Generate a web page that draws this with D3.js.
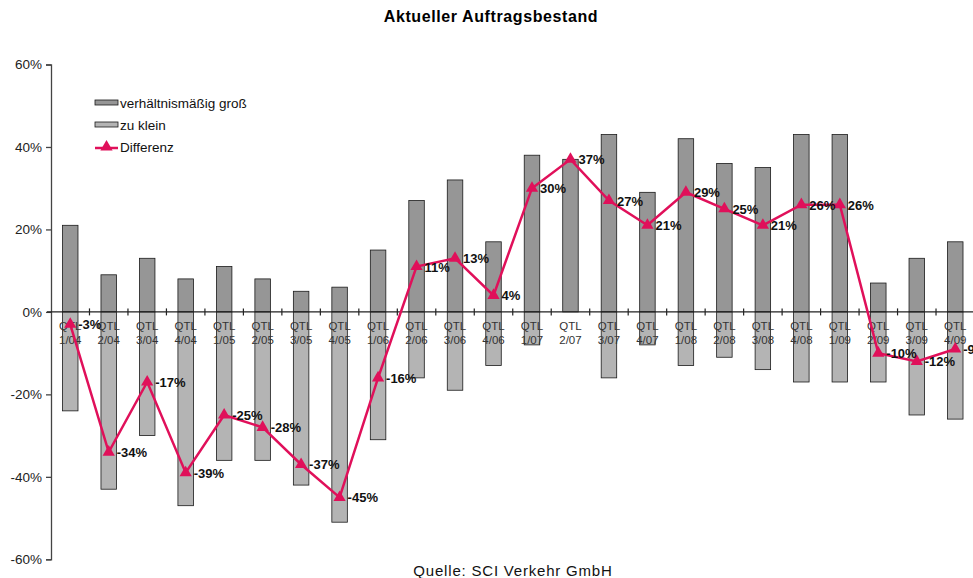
<!DOCTYPE html>
<html><head><meta charset="utf-8">
<script src="https://cdn.jsdelivr.net/npm/d3@7"></script>
<style>html,body{margin:0;padding:0;background:#fff;}svg{display:block;font-family:"Liberation Sans",Arial,sans-serif;}</style>
</head><body>
<svg id="c" width="973" height="578"></svg>
<script>
const categories = ["1/04","2/04","3/04","4/04","1/05","2/05","3/05","4/05","1/06","2/06","3/06","4/06","1/07","2/07","3/07","4/07","1/08","2/08","3/08","4/08","1/09","2/09","3/09","4/09"];
const gross = [21,9,13,8,11,8,5,6,15,27,32,17,38,37,43,29,42,36,35,43,43,7,13,17];
const klein = [-24,-43,-30,-47,-36,-36,-42,-51,-31,-16,-19,-13,-8,0,-16,-8,-13,-11,-14,-17,-17,-17,-25,-26];
const diff = [-3,-34,-17,-39,-25,-28,-37,-45,-16,11,13,4,30,37,27,21,29,25,21,26,26,-10,-12,-9];
const yTicks = [-60,-40,-20,0,20,40,60];
const seriesNames = ["verhältnismäßig groß","zu klein","Differenz"];
const title = "Aktueller Auftragsbestand";
const source = "Quelle: SCI Verkehr GmbH";

const svg = d3.select("#c");
const colDark = "#969696", colLight = "#b4b4b4", colLine = "#e0105a", colStroke = "#1a1a1a";
const x = d3.scaleBand().domain(categories).range([51, 974.5]).padding(0);
const y = d3.scaleLinear().domain([-60, 60]).range([559.3, 64.5]);
const bw = 15.5;
const cx = c => x(c) + x.bandwidth() / 2;

svg.append("text").attr("x", 491).attr("y", 22).attr("text-anchor", "middle")
  .attr("font-size", 16).attr("letter-spacing", 0.6).attr("font-weight", "bold").text(title);

// bars
svg.append("g").selectAll("rect").data(categories).join("rect")
  .attr("x", (c) => cx(c) - bw / 2).attr("width", bw)
  .attr("y", (c, i) => y(gross[i])).attr("height", (c, i) => y(0) - y(gross[i]))
  .attr("fill", colDark).attr("stroke", colStroke).attr("stroke-width", 0.8);
svg.append("g").selectAll("rect").data(categories).join("rect")
  .attr("x", (c) => cx(c) - bw / 2).attr("width", bw)
  .attr("y", y(0)).attr("height", (c, i) => y(klein[i]) - y(0))
  .attr("fill", colLight).attr("stroke", colStroke).attr("stroke-width", 0.8)
  .attr("display", (c, i) => klein[i] === 0 ? "none" : null);

// y axis
const ya = svg.append("g").attr("transform", "translate(51,0)")
  .call(d3.axisLeft(y).tickValues(yTicks).tickSize(5).tickFormat(d => d + "%"));
ya.select(".domain").attr("stroke", "#444").attr("stroke-width", 1.3);
ya.selectAll(".tick line").attr("stroke", "#444").attr("stroke-width", 1.3);
ya.selectAll(".tick text").attr("font-size", 13.5).attr("fill", "#222").attr("x", -9)
  .attr("font-family", "Liberation Sans, Arial, sans-serif");

// x axis line and ticks
svg.append("line").attr("x1", 47).attr("x2", 973).attr("y1", y(0)).attr("y2", y(0))
  .attr("stroke", "#222").attr("stroke-width", 1.3);
svg.append("g").selectAll("line").data(categories.slice(1)).join("line")
  .attr("x1", c => x(c)).attr("x2", c => x(c))
  .attr("y1", y(0) - 3.5).attr("y2", y(0) + 3.5)
  .attr("stroke", "#222").attr("stroke-width", 1.2);

// category labels
const cl = svg.append("g").attr("font-size", 11.5).attr("fill", "#333").attr("text-anchor", "middle");
cl.selectAll("text.q").data(categories).join("text").attr("class", "q")
  .attr("x", cx).attr("y", 330).text("QTL");
cl.selectAll("text.d").data(categories).join("text").attr("class", "d")
  .attr("x", cx).attr("y", 344).text(c => c);

// line
const line = d3.line().x((d, i) => cx(categories[i])).y(d => y(d));
svg.append("path").datum(diff).attr("d", line).attr("fill", "none")
  .attr("stroke", colLine).attr("stroke-width", 2.5).attr("stroke-linejoin", "miter");
const tri = d3.symbol().type(d3.symbolTriangle).size(65);
svg.append("g").selectAll("path").data(diff).join("path")
  .attr("d", tri).attr("fill", colLine)
  .attr("transform", (d, i) => `translate(${cx(categories[i])},${y(d)})`);

// data labels
svg.append("g").selectAll("text").data(diff).join("text")
  .attr("x", (d, i) => cx(categories[i]) + 8).attr("y", d => y(d) + 5)
  .attr("font-size", 13).attr("font-weight", "bold").attr("fill", "#111")
  .text(d => d + "%");

// legend
const lg = svg.append("g").attr("font-size", 13.5).attr("fill", "#111");
lg.append("rect").attr("x", 95).attr("y", 100).attr("width", 23).attr("height", 5)
  .attr("fill", colDark).attr("stroke", colStroke).attr("stroke-width", 0.8);
lg.append("rect").attr("x", 95).attr("y", 122).attr("width", 23).attr("height", 5)
  .attr("fill", colLight).attr("stroke", colStroke).attr("stroke-width", 0.8);
lg.append("line").attr("x1", 95).attr("x2", 118).attr("y1", 148).attr("y2", 148)
  .attr("stroke", colLine).attr("stroke-width", 2.5);
lg.append("path").attr("d", tri).attr("fill", colLine).attr("transform", "translate(106.5,147)");
[0, 1, 2].forEach(i => {
  lg.append("text").attr("x", 120).attr("y", 107.5 + i * 22).text(seriesNames[i]);
});

svg.append("text").attr("x", 513).attr("y", 576).attr("text-anchor", "middle")
  .attr("font-size", 15).attr("letter-spacing", 0.8).attr("fill", "#111").text(source);
</script>
</body></html>
